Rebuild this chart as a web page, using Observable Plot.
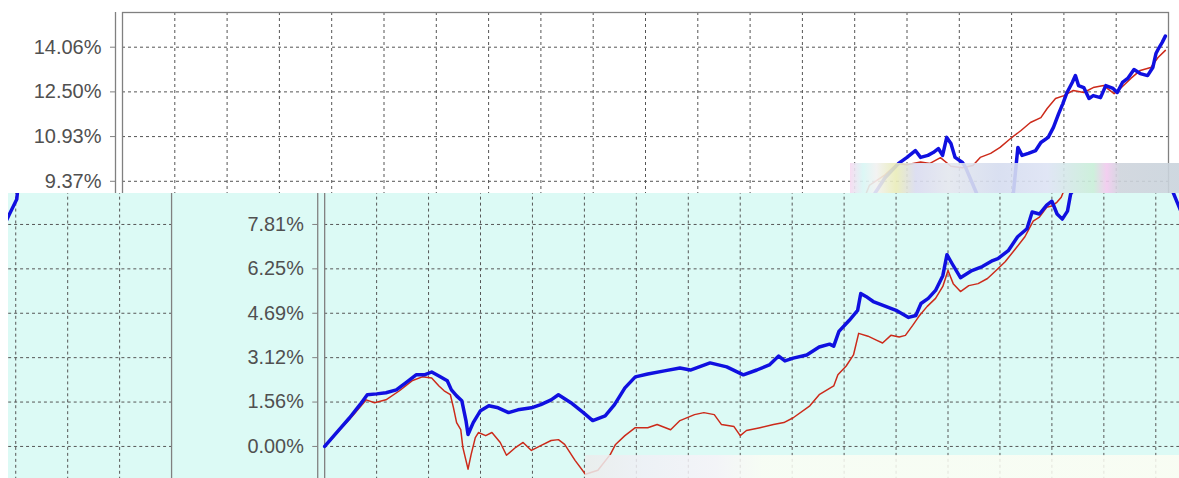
<!DOCTYPE html>
<html>
<head>
<meta charset="utf-8">
<script src="https://cdn.jsdelivr.net/npm/d3@7"></script>
<script src="https://cdn.jsdelivr.net/npm/@observablehq/plot@0.6"></script>
<style>
  html, body { margin: 0; padding: 0; background: #fff; }
  #wrap { position: relative; width: 1179px; height: 478px; overflow: hidden; background: #fff; }
  .layer { position: absolute; overflow: hidden; }
  .layer svg { position: absolute; background: transparent; }
</style>
</head>
<body>
<div id="wrap">
  <div id="top" class="layer" style="left:0;top:0;width:1179px;height:193px;background:#fff"></div>
  <div id="bot" class="layer" style="left:8px;top:193px;width:1171px;height:285px;background:#dcfaf5"></div>
  <div style="position:absolute;left:850px;top:163px;width:329px;height:30px;opacity:0.9;background:linear-gradient(90deg,#f6d9f0 0%,#d8f6f4 4%,#f1f1f1 8%,#e9ecb8 14%,#d9dbf0 20%,#e3e7ee 30%,#d5dcef 45%,#dde3f4 60%,#c8eed8 74%,#f1c9ee 78%,#ced4dc 82%,#c9d3dc 100%)"></div>
  <div style="position:absolute;left:585px;top:455px;width:594px;height:23px;opacity:0.85;background:linear-gradient(90deg,#ececec 0%,#f0f0f6 10%,#f7f3f8 22%,#fbfdf4 30%,#fdfdf3 100%)"></div>
</div>
<script>
// Trading days from start (one grid column = 50 days) and cumulative return in %
const blueDay = [0,14,24,34,41,50,59,69,78,88,96,103,110,118,122,127,132,136,138,143,150,158,167,177,186,199,208,218,225,237,249,258,270,279,289,299,311,327,342,352,371,387,403,416,428,437,443,451,464,476,486,490,495,505,513,516,521,528,540,550,562,569,574,581,588,595,599,604,612,623,633,643,648,658,667,676,681,688,695,700,705,710,715,718,729,742,750,758,763,770,775,780,784,788,792,796,803,806,816,825,832,838,844,851,856,860,866,873,878,885,890,895,899,903,908,911,914,919,924,928,935,940,947,951,956,961,967,973,980,985,988,991,994,997];
const blueVal = [0,0.59,1.01,1.47,1.82,1.85,1.89,1.99,2.24,2.52,2.52,2.62,2.48,2.31,1.99,1.78,1.61,0.91,0.42,0.84,1.26,1.43,1.36,1.19,1.29,1.36,1.47,1.64,1.82,1.54,1.19,0.91,1.08,1.47,2.06,2.45,2.55,2.66,2.76,2.69,2.94,2.80,2.52,2.69,2.87,3.18,3.01,3.11,3.22,3.50,3.60,3.53,4.05,4.44,4.79,5.38,5.28,5.10,4.93,4.79,4.54,4.61,5.03,5.21,5.49,6.01,6.75,6.43,5.94,6.19,6.33,6.54,6.61,6.89,7.38,7.66,8.25,8.18,8.49,8.63,8.18,8.00,8.28,8.88,9.50,10.00,10.21,10.45,10.21,10.28,10.38,10.52,10.28,10.91,10.70,10.21,10.03,9.86,9.00,8.20,7.70,7.72,8.18,8.70,10.56,10.28,10.35,10.45,10.73,10.91,11.26,11.74,12.09,12.48,12.83,13.07,12.72,12.65,12.27,12.37,12.30,12.72,12.62,12.48,12.83,12.97,13.28,13.14,13.07,13.35,13.84,14.05,14.23,14.45];
const redDay = [0,14,27,40,48,59,72,84,94,103,110,115,121,124,127,131,133,136,138,141,145,148,155,161,169,175,184,191,199,208,218,225,231,241,251,263,275,280,289,299,311,320,333,342,356,365,375,382,394,400,406,419,432,442,451,467,476,490,494,502,509,514,523,531,537,545,553,559,566,572,580,588,595,600,605,612,620,629,638,645,655,665,674,682,688,695,700,705,709,714,729,741,750,763,772,782,792,803,813,820,830,839,849,859,868,878,884,892,900,909,919,928,938,948,954,964,973,983,990,997];
const redVal = [0,0.56,1.08,1.64,1.54,1.64,1.96,2.31,2.45,2.41,2.13,1.96,1.82,1.36,0.84,0.59,-0.03,-0.49,-0.80,-0.28,0.31,0.49,0.38,0.49,0.14,-0.31,-0.03,0.14,-0.14,0.03,0.21,0.24,0.07,-0.49,-0.98,-0.84,-0.28,0.07,0.38,0.66,0.66,0.77,0.59,0.91,1.12,1.19,1.12,0.77,0.70,0.38,0.56,0.66,0.77,0.84,1.01,1.43,1.82,2.13,2.52,2.83,3.22,3.98,3.88,3.74,3.64,3.91,3.85,3.91,4.26,4.58,4.93,5.21,5.63,6.19,5.73,5.45,5.66,5.73,5.91,6.15,6.50,6.96,7.38,7.93,8.07,8.42,8.46,8.60,8.77,9.23,9.60,10.00,9.95,10.05,10.00,10.20,9.90,9.85,9.93,10.21,10.35,10.56,10.87,11.15,11.43,11.60,11.92,12.27,12.37,12.55,12.48,12.65,12.72,12.44,12.62,12.97,13.25,13.35,13.70,13.95];
const yTicks = [0, 1.5625, 3.125, 4.6875, 6.25, 7.8125, 9.375, 10.9375, 12.5, 14.0625];
const yTickLabels = ["0.00%","1.56%","3.12%","4.69%","6.25%","7.81%","9.37%","10.93%","12.50%","14.06%"];
const xGrid = d3.range(50, 1000, 50);

const blue = blueDay.map((d, i) => ({day: d, v: blueVal[i]}));
const red = redDay.map((d, i) => ({day: d, v: redVal[i]}));

// labelTicks: which of the y ticks get a text label in this copy of the chart
function makeChart(labelTicks) {
  return Plot.plot({
    width: 1179,
    height: 520,
    marginLeft: 122,
    marginRight: 11,
    marginTop: 12,
    marginBottom: 26,
    style: {background: "transparent", fontFamily: "'Liberation Sans', Arial, sans-serif", fontSize: "20px", color: "#505050"},
    x: {domain: [0, 1000], range: [122, 1168], axis: null},
    y: {domain: [-1.5625, 15.275], range: [493.7, 12], axis: null},
    marks: [
      Plot.gridX(xGrid, {stroke: "#555", strokeOpacity: 1, strokeWidth: 1, strokeDasharray: "3,3"}),
      Plot.gridY(yTicks, {stroke: "#555", strokeOpacity: 1, strokeWidth: 1, strokeDasharray: "3,3"}),
      Plot.frame({stroke: "#808080", strokeWidth: 1.3}),
      Plot.ruleX([0], {dx: -7, stroke: "#808080", strokeWidth: 1.3}),
      Plot.axisY(yTicks, {
        text: null, tickSize: 5, dx: -7, stroke: "#808080", label: null
      }),
      labelTicks.length ? Plot.axisY(labelTicks, {
        tickFormat: d => yTickLabels[yTicks.indexOf(d)],
        tickSize: 0, tickPadding: 14, dx: -7,
        fill: "#505050", fontSize: 20, label: null
      }) : null,
      Plot.line(red, {x: "day", y: "v", stroke: "#cc2a1a", strokeWidth: 1.5}),
      Plot.line(blue, {x: "day", y: "v", stroke: "#1010e0", strokeWidth: 3.5, strokeLinejoin: "round"})
    ]
  });
}

const topLayer = document.getElementById("top");
const botLayer = document.getElementById("bot");
const s1 = makeChart(yTicks.filter(v => v > 9)); s1.style.left = "0px"; s1.style.top = "0px"; topLayer.appendChild(s1);
const s2 = makeChart(yTicks.filter(v => v < 9)); s2.style.left = "195px"; s2.style.top = "-193px"; botLayer.appendChild(s2);
const s3 = makeChart([]); s3.style.left = "-997px"; s3.style.top = "-193px"; botLayer.appendChild(s3);
</script>
</body>
</html>
